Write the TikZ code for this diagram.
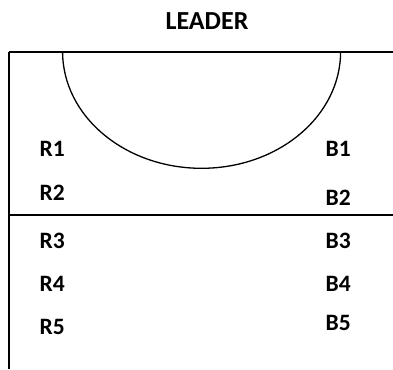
\documentclass[tikz,border=0pt]{standalone}
\usepackage{fontspec}
\setmainfont{Carlito}
\begin{document}
\begin{tikzpicture}[x=1pt,y=-1pt,
  lbl/.style={inner sep=0pt, anchor=base west, font=\fontsize{23.5}{23.5}\selectfont\bfseries},
  ln/.style={line width=1.7pt}]
\useasboundingbox (0,0) rectangle (393,369);
\node[inner sep=0pt, anchor=base, font=\fontsize{26}{26}\selectfont\bfseries] (leader) at (207,29.3) {LEADER};
\coordinate (tl) at (9,51.7);
\coordinate (tr) at (393,51.7);
\coordinate (bl) at (9,369);
\coordinate (ml) at (9,215);
\coordinate (mr) at (393,215);
\coordinate (as) at (62.6,51.7);
\draw[ln] (tl) -- (tr);
\draw[ln] (tl) -- (bl);
\draw[ln] (ml) -- (mr);
\draw[line width=1.3pt] (as) arc[start angle=180, end angle=360, x radius=139, y radius=-116.6];
\node[lbl] (r1) at (39.5,156) {R1};
\node[lbl] (r2) at (39.5,200) {R2};
\node[lbl] (r3) at (39.5,248) {R3};
\node[lbl] (r4) at (39.5,291.7) {R4};
\node[lbl] (r5) at (39.5,334.3) {R5};
\node[lbl] (b1) at (325.5,156) {B1};
\node[lbl] (b2) at (325.5,205) {B2};
\node[lbl] (b3) at (325.5,248) {B3};
\node[lbl] (b4) at (325.5,291.7) {B4};
\node[lbl] (b5) at (325.5,330) {B5};
\end{tikzpicture}
\end{document}
